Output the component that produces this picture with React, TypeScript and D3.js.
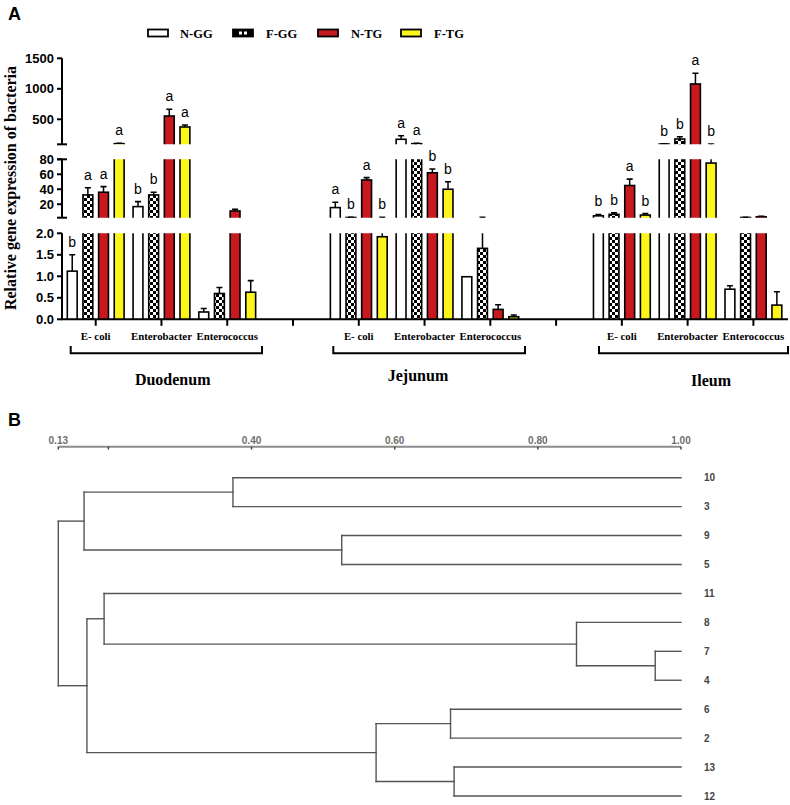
import React from "react";
import * as d3 from "d3";

// ---------- Panel A data ----------
const regions = ["Duodenum", "Jejunum", "Ileum"];
const bacteria = ["E- coli", "Enterobacter", "Enterococcus"];
const groups = ["N-GG", "F-GG", "N-TG", "F-TG"];

// rows = bacteria, cols = groups
const duodenumMean = [[1.12, 32.4, 36, 100], [16.8, 32.4, 554, 374], [0.17, 0.6, 11, 0.63]];
const duodenumErr = [[0.38, 9.6, 7.5, 6], [6.7, 3.6, 110, 33], [0.08, 0.14, 2.3, 0.27]];
const duodenumLetters = [["b", "a", "a", "a"], ["b", "b", "a", "a"], ["", "", "", ""]];

const jejunumMean = [[15.5, 2.3, 52.4, 1.92], [172, 100, 62, 40], [0.99, 1.65, 0.23, 0.06]];
const jejunumErr = [[7.2, 0.4, 3.1, 0.5], [59, 6, 5, 10], [0, 0.9, 0.11, 0.04]];
const jejunumLetters = [["a", "b", "a", "b"], ["a", "a", "b", "b"], ["", "", "", ""]];

const ileumMean = [[4.5, 6.5, 45, 5.5], [95, 177, 1079, 75], [0.7, 2.3, 3.3, 0.33]];
const ileumErr = [[1.8, 2, 8.5, 2], [3, 38, 175, 20], [0.08, 0.3, 0.5, 0.31]];
const ileumLetters = [["b", "b", "a", "b"], ["b", "b", "a", "b"], ["", "", "", ""]];

const lowerDomain = [0, 2];
const middleDomain = [2, 80];
const upperDomain = [90, 1500];
const lowerTicks = [0, 0.5, 1, 1.5, 2];
const middleTicks = [20, 40, 60, 80];
const upperTicks = [500, 1000, 1500];

const yTitle = "Relative gene expression of bacteria";

// ---------- Panel B data ----------
const dendroLeaves = ["10", "3", "9", "5", "11", "8", "7", "4", "6", "2", "13", "12"];
const dendroMerges: [string, string, number, string][] = [
  ["10", "3", 0.374, "m1"],
  ["9", "5", 0.526, "m2"],
  ["m1", "m2", 0.166, "m3"],
  ["7", "4", 0.964, "m4"],
  ["8", "m4", 0.854, "m5"],
  ["11", "m5", 0.194, "m6"],
  ["6", "2", 0.678, "m7"],
  ["13", "12", 0.683, "m8"],
  ["m7", "m8", 0.574, "m9"],
  ["m6", "m9", 0.17, "m10"],
  ["m3", "m10", 0.13, "root"],
];
const dendroTicks = [0.13, 0.2, 0.4, 0.6, 0.8, 1.0];
const dendroTickLabels = ["0.13", "", "0.40", "0.60", "0.80", "1.00"];

const SERIF = "'Liberation Serif', 'Times New Roman', serif";
const SANS = "'Liberation Sans', Arial, sans-serif";

export default function App() {
  // ----- Panel A layout -----
  const axisX = 62;
  const xAxisY = 319.3;
  const segs = [
    { dom: lowerDomain, scale: d3.scaleLinear().domain(lowerDomain).range([319.3, 233.3]), ticks: lowerTicks, fmt: d3.format(".1f") },
    { dom: middleDomain, scale: d3.scaleLinear().domain(middleDomain).range([217.7, 159.3]), ticks: middleTicks, fmt: d3.format("d") },
    { dom: upperDomain, scale: d3.scaleLinear().domain(upperDomain).range([144.3, 58.3]), ticks: upperTicks, fmt: d3.format("d") },
  ];

  const slots: string[] = [];
  regions.forEach((r, ri) => {
    bacteria.forEach((b) => slots.push(r + "|" + b));
    if (ri < regions.length - 1) slots.push("gap" + ri);
  });
  const x = d3.scalePoint<string>().domain(slots).range([95.7, 753.4]);
  const inner = d3.scaleBand<string>().domain(groups).range([-28.4, 28.4]).paddingInner(0.37).paddingOuter(0);
  const barW = inner.bandwidth();

  const means = [duodenumMean, jejunumMean, ileumMean];
  const errs = [duodenumErr, jejunumErr, ileumErr];
  const letters = [duodenumLetters, jejunumLetters, ileumLetters];
  const fills = ["#ffffff", "url(#checker)", "#c8191e", "#fbf51c"];

  type Bar = { cx: number; v: number; e: number; l: string; g: number };
  const bars: Bar[] = [];
  regions.forEach((r, ri) =>
    bacteria.forEach((b, bi) =>
      groups.forEach((g, gi) => {
        const cx = (x(r + "|" + b) as number) + (inner(g) as number) + barW / 2;
        bars.push({ cx, v: means[ri][bi][gi], e: errs[ri][bi][gi], l: letters[ri][bi][gi], g: gi });
      })
    )
  );

  const letterPos = (b: Bar) => {
    const top = b.v + b.e;
    let s = segs.find((sg) => top >= sg.dom[0] && top <= sg.dom[1]);
    if (!s) s = segs.find((sg) => top < sg.dom[0]) || segs[2];
    return s.scale(Math.max(top, s.dom[0])) - 8;
  };

  // ----- Panel B layout -----
  const xB = d3.scaleLinear().domain([0.13, 1.0]).range([58.3, 681]);
  const leafY = d3.scalePoint<string>().domain(dendroLeaves).range([477.7, 796]);
  const nodes: Record<string, any> = {};
  dendroLeaves.forEach((n) => (nodes[n] = { name: n, sim: 1.0 }));
  dendroMerges.forEach(([a, b, s, id]) => (nodes[id] = { name: id, sim: s, children: [nodes[a], nodes[b]] }));
  const root = d3.hierarchy(nodes["root"]);
  root.eachAfter((n: any) => {
    n.py = n.children ? d3.mean(n.children, (c: any) => c.py) : (leafY(n.data.name) as number);
  });
  const dendroLines: { x1: number; y1: number; x2: number; y2: number }[] = [];
  root.each((n: any) => {
    if (n.children) {
      const px = xB(n.data.sim);
      const ys = n.children.map((c: any) => c.py);
      dendroLines.push({ x1: px, y1: d3.min(ys) as number, x2: px, y2: d3.max(ys) as number });
      n.children.forEach((c: any) => {
        dendroLines.push({ x1: px, y1: c.py, x2: xB(c.data.sim), y2: c.py });
      });
    }
  });
  const leavesNodes = root.leaves();

  const bracketRanges = [[70.7, 262], [333.3, 525], [599, 788]];
  const regionLabelX = [172.7, 418, 711];
  const regionLabelY = [385, 381, 385.5];
  const legendBoxX = [148, 233, 318, 401];
  const legendTextX = [180, 266, 351, 434];

  return (
    <svg width={790} height={805} style={{ position: "absolute", left: 0, top: 0, background: "#fff" }}>
      <defs>
        <pattern id="checker" patternUnits="userSpaceOnUse" width={6} height={6}>
          <rect width={6} height={6} fill="#fff" />
          <rect x={0} y={0} width={3} height={3} fill="#000" />
          <rect x={3} y={3} width={3} height={3} fill="#000" />
        </pattern>
        {segs.map((s, i) => (
          <clipPath id={"seg" + i} key={i}>
            <rect x={0} y={s.scale.range()[1]} width={790} height={s.scale.range()[0] - s.scale.range()[1]} />
          </clipPath>
        ))}
      </defs>
      <rect width={790} height={805} fill="#fff" />

      {/* Panel labels */}
      <text x={8} y={20} fontFamily={SANS} fontWeight="bold" fontSize={18}>A</text>
      <text x={8} y={426} fontFamily={SANS} fontWeight="bold" fontSize={18}>B</text>

      {/* Legend */}
      {groups.map((g, i) => (
        <g key={g}>
          <rect x={legendBoxX[i]} y={29.5} width={20} height={7} fill={i === 1 ? "#000" : fills[i]} stroke="#000" strokeWidth={1.8} />
          {i === 1 && (
            <>
              <rect x={legendBoxX[i] + 6} y={31.5} width={3} height={3} fill="#fff" />
              <rect x={legendBoxX[i] + 11} y={31.5} width={3} height={3} fill="#fff" />
            </>
          )}
          <text x={legendTextX[i]} y={38} fontFamily={SERIF} fontWeight="bold" fontSize={12.5}>{g}</text>
        </g>
      ))}

      {/* Y title */}
      <text transform="translate(16,188) rotate(-90)" textAnchor="middle" fontFamily={SERIF} fontWeight="bold" fontSize={16}>{yTitle}</text>

      {/* Bars per segment */}
      {segs.map((s, si) => {
        const [r0, r1] = s.scale.range();
        return (
          <g key={si} clipPath={`url(#seg${si})`}>
            {bars.map((b, bi) => {
              const showBar = b.v > s.dom[0];
              const top = b.v >= s.dom[1] ? r1 - 5 : s.scale(b.v);
              const bottom = r0 + 5;
              const et = b.v + b.e;
              const showErr = b.e > 0 && et > s.dom[0];
              return (
                <g key={bi}>
                  {showErr && (
                    <>
                      <line x1={b.cx} x2={b.cx} y1={s.scale(b.v)} y2={s.scale(et)} stroke="#000" strokeWidth={1.5} />
                      <line x1={b.cx - 3} x2={b.cx + 3} y1={s.scale(et)} y2={s.scale(et)} stroke="#000" strokeWidth={1.6} />
                    </>
                  )}
                  {showBar && (
                    <rect x={b.cx - barW / 2} y={top} width={barW} height={Math.max(0, bottom - top)} fill={fills[b.g]} stroke="#000" strokeWidth={1.6} />
                  )}
                </g>
              );
            })}
          </g>
        );
      })}

      {/* Letters */}
      {bars.filter((b) => b.l).map((b, i) => (
        <text key={i} x={b.cx} y={letterPos(b)} textAnchor="middle" fontFamily={SANS} fontSize={14}>{b.l}</text>
      ))}

      {/* Y axis segments */}
      {segs.map((s, si) => {
        const [r0, r1] = s.scale.range();
        return (
          <g key={si}>
            <line x1={axisX} x2={axisX} y1={r0} y2={r1} stroke="#000" strokeWidth={2} />
            {s.ticks.map((t) => (
              <g key={t}>
                <line x1={axisX - 5} x2={axisX} y1={s.scale(t)} y2={s.scale(t)} stroke="#000" strokeWidth={2} />
                <text x={axisX - 8} y={s.scale(t)} dy="0.35em" textAnchor="end" fontFamily={SANS} fontWeight="bold" fontSize={13}>{s.fmt(t)}</text>
              </g>
            ))}
            {si > 0 && <line x1={axisX - 5} x2={axisX + 5} y1={r0} y2={r0} stroke="#000" strokeWidth={2} />}
            {si === 1 && <line x1={axisX - 5} x2={axisX + 5} y1={r1} y2={r1} stroke="#000" strokeWidth={2} />}
          </g>
        );
      })}

      {/* X axis */}
      <line x1={axisX - 1} x2={788} y1={xAxisY} y2={xAxisY} stroke="#000" strokeWidth={2} />
      {slots.map((sl) => (
        <line key={sl} x1={x(sl)} x2={x(sl)} y1={xAxisY} y2={xAxisY + 6.5} stroke="#000" strokeWidth={2} />
      ))}
      {slots.filter((sl) => !sl.startsWith("gap")).map((sl) => (
        <text key={sl} x={x(sl)} y={340} textAnchor="middle" fontFamily={SERIF} fontWeight="bold" fontSize={10.8}>{sl.split("|")[1]}</text>
      ))}

      {/* Brackets & region labels */}
      {regions.map((r, i) => (
        <g key={r}>
          <path d={`M${bracketRanges[i][0]},346 V353.3 H${bracketRanges[i][1]} V346`} fill="none" stroke="#000" strokeWidth={2} />
          <text x={regionLabelX[i]} y={regionLabelY[i]} textAnchor="middle" fontFamily={SERIF} fontWeight="bold" fontSize={16}>{r}</text>
        </g>
      ))}

      {/* Panel B axis */}
      <line x1={xB(0.13)} x2={xB(1.0)} y1={446.7} y2={446.7} stroke="#8c8c8c" strokeWidth={2} />
      {dendroTicks.map((t, i) => (
        <g key={t}>
          <line x1={xB(t)} x2={xB(t)} y1={446.7} y2={449.5} stroke="#444" strokeWidth={1.5} />
          {dendroTickLabels[i] && (
            <text x={xB(t)} y={443.5} textAnchor="middle" fontFamily={SANS} fontWeight="bold" fontSize={10} fill="#6e6e6e">{dendroTickLabels[i]}</text>
          )}
        </g>
      ))}

      {/* Dendrogram */}
      {dendroLines.map((l, i) => (
        <line key={i} x1={l.x1} y1={l.y1} x2={l.x2} y2={l.y2} stroke="#555" strokeWidth={1.4} strokeLinecap="square" />
      ))}
      {leavesNodes.map((n: any) => (
        <text key={n.data.name} x={704} y={n.py} dy="0.35em" fontFamily={SANS} fontWeight="bold" fontSize={10} fill="#444">{n.data.name}</text>
      ))}
    </svg>
  );
}
